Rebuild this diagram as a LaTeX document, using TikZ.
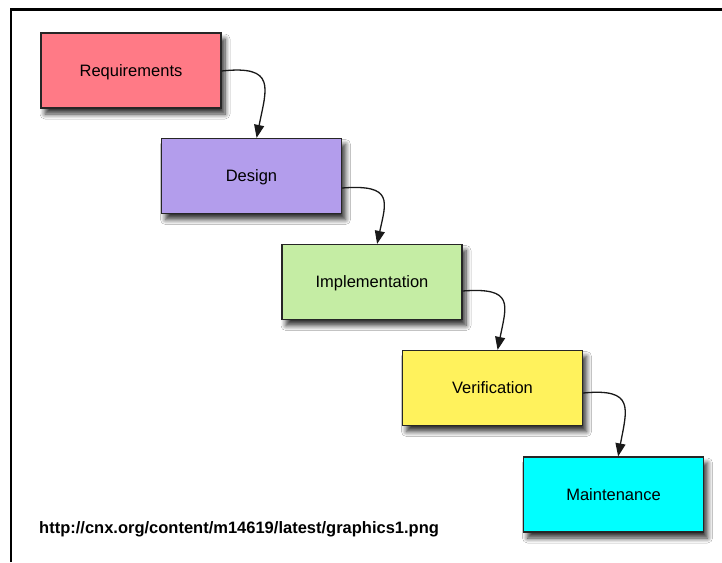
\documentclass[tikz,border=0pt]{standalone}
\usepackage{fontspec}
\setmainfont{Liberation Sans}
\usetikzlibrary{arrows.meta,shadows.blur,calc}

\definecolor{reqfill}{HTML}{FF7A86}
\definecolor{desfill}{HTML}{B39DEC}
\definecolor{impfill}{HTML}{C5EDA4}
\definecolor{verfill}{HTML}{FFF25C}
\definecolor{maifill}{HTML}{00FFFF}

\tikzset{
  phase/.style={draw=black!85, line width=1.2pt, rectangle,
    minimum width=180pt, minimum height=75pt, inner sep=0pt,
    text height=11.8pt, text depth=0pt,
    font=\fontsize{16.5}{19}\selectfont,
    blur shadow={shadow xshift=4pt, shadow yshift=-6pt,
      shadow blur radius=5pt, shadow blur steps=8, shadow opacity=80}},
  flow/.style={draw=black!90, line width=1.3pt,
    -{Triangle[length=13pt,width=10pt]}},
}

\begin{document}
\begin{tikzpicture}[x=1pt,y=-1pt]
  \useasboundingbox (0,0) rectangle (722,562);
  \fill[white] (0,0) rectangle (722,562);

  % open frame: top and left rules
  \draw[line width=2.5pt, black] (11,562) -- (11,9.5) -- (722,9.5);

  % phases of the waterfall
  \node[phase, fill=reqfill] (req) at (131,70.5) {Requirements};
  \node[phase, fill=desfill] (des) at (251.5,176) {Design};
  \node[phase, fill=impfill] (imp) at (372,282) {Implementation};
  \node[phase, fill=verfill] (ver) at (492.5,388) {Verification};
  \node[phase, fill=maifill] (mai) at (613.5,494.5) {Maintenance};

  % connectors between consecutive phases
  \draw[flow] ($(req.east)+(0,0.5)$) .. controls +(55,-6) and +(10,-50) .. ($(req.east|-des.north)+(35,0)$);
  \draw[flow] ($(des.east)+(0,12)$) .. controls +(52,-4) and +(9,-42) .. ($(des.east|-imp.north)+(35,0)$);
  \draw[flow] ($(imp.east)+(0,9)$) .. controls +(52,-4) and +(9,-45) .. ($(imp.east|-ver.north)+(35,0)$);
  \draw[flow] ($(ver.east)+(0,5)$) .. controls +(52,-5) and +(9,-48) .. ($(ver.east|-mai.north)+(35,0)$);

  % source credit
  \node[anchor=base west, inner sep=0pt, font=\bfseries\fontsize{16.5}{19}\selectfont] (src) at (39,533)
    {http://cnx.org/content/m14619/latest/graphics1.png};
\end{tikzpicture}
\end{document}
